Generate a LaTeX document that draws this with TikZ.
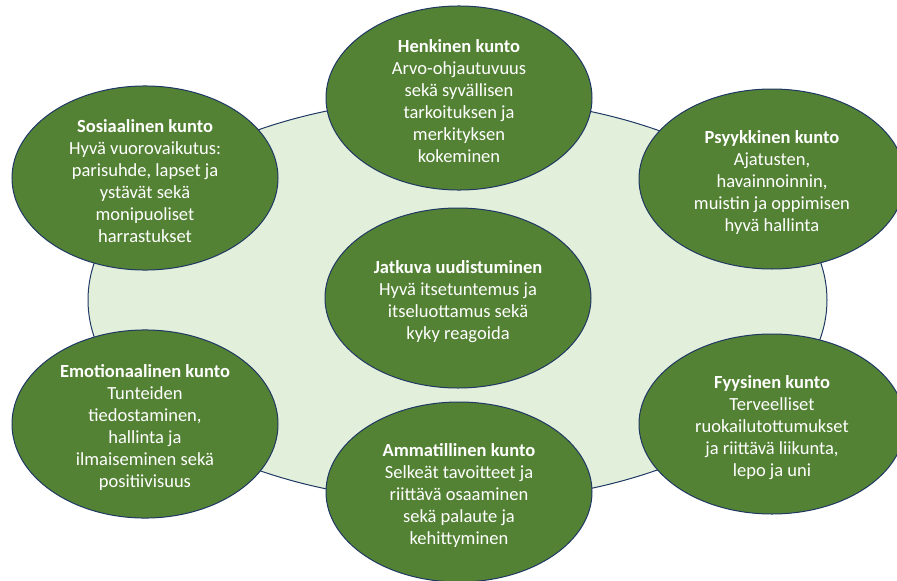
\documentclass[tikz,border=0pt]{standalone}
\usepackage{fontspec}
\setmainfont{Carlito}
\usetikzlibrary{shapes.geometric}
\definecolor{leafgreen}{HTML}{548235}
\definecolor{palegreen}{HTML}{E2EFDA}
\definecolor{rimblue}{HTML}{203864}
\tikzset{
  bigoval/.style={ellipse, draw=rimblue, fill=palegreen, line width=1pt,
    minimum width=739pt, minimum height=404pt, inner sep=0pt},
  oval/.style={ellipse, draw=rimblue, fill=leafgreen, line width=1pt,
    minimum width=266pt, minimum height=180pt, inner sep=0pt,
    text=white, align=center,
    font=\fontsize{18.5}{22}\selectfont},
}
% heading line; the tall strut drops the text block a little within its oval
\newcommand{\hd}[1]{\rule{0pt}{20pt}\textbf{#1}}
\begin{document}
\begin{tikzpicture}[x=1pt,y=-1pt]
  \useasboundingbox (0,0) rectangle (897,581);
  % background field
  \node[bigoval] (field) at (457.5,300) {};
  % the seven areas of condition
  \node[oval] (henk) at (459,98)
    {\hd{Henkinen kunto}\\Arvo-ohjautuvuus\\sekä syvällisen\\tarkoituksen ja\\merkityksen\\kokeminen};
  \node[oval] (sos) at (145,178)
    {\hd{Sosiaalinen kunto}\\Hyvä vuorovaikutus:\\parisuhde, lapset ja\\ystävät sekä\\monipuoliset\\harrastukset};
  \node[oval] (psy) at (772,179)
    {\hd{Psyykkinen kunto}\\Ajatusten,\\havainnoinnin,\\muistin ja oppimisen\\hyvä hallinta};
  \node[oval] (jatk) at (458,298)
    {\hd{Jatkuva uudistuminen}\\Hyvä itsetuntemus ja\\itseluottamus sekä\\kyky reagoida};
  \node[oval] (emo) at (145,424)
    {\hd{Emotionaalinen kunto}\\Tunteiden\\tiedostaminen,\\hallinta ja\\ilmaiseminen sekä\\positiivisuus};
  \node[oval] (fyys) at (772,424)
    {\hd{Fyysinen kunto}\\Terveelliset\\ruokailutottumukset\\ja riittävä liikunta,\\lepo ja uni};
  \node[oval] (amm) at (459,492)
    {\hd{Ammatillinen kunto}\\Selkeät tavoitteet ja\\riittävä osaaminen\\sekä palaute ja\\kehittyminen};
\end{tikzpicture}
\end{document}
